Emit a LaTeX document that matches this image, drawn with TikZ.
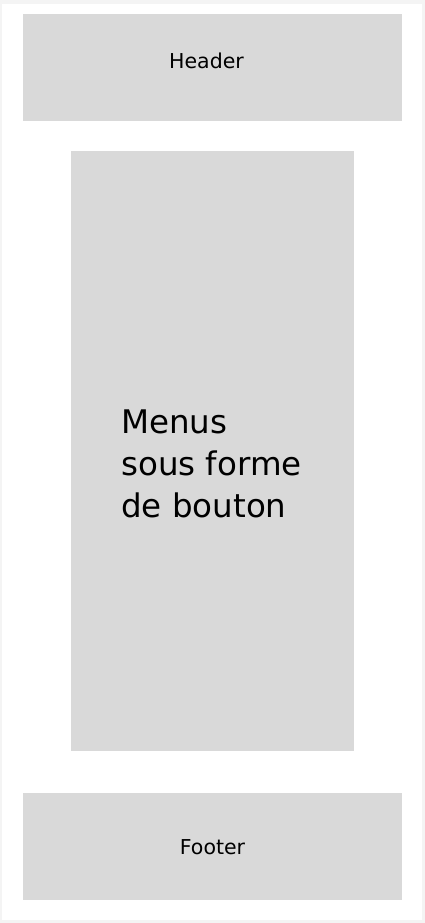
\documentclass[tikz,border=0pt]{standalone}
\usepackage{fontspec}
\setmainfont{DejaVu Sans}
\usetikzlibrary{positioning}
\definecolor{boxgray}{HTML}{D9D9D9}
\definecolor{framegray}{HTML}{F4F4F4}

\begin{document}
\begin{tikzpicture}[x=1pt,y=-1pt,node distance=30pt]
  \tikzstyle{boxW}=[rectangle,fill=boxgray,inner sep=0pt,minimum width=379pt,minimum height=107pt]
  \tikzstyle{boxM}=[rectangle,fill=boxgray,inner sep=0pt,minimum width=283pt,minimum height=600pt]
  \tikzstyle{txtS}=[inner sep=0pt,font=\fontsize{20.5}{24}\selectfont]
  \tikzstyle{txtL}=[inner sep=0pt,align=left,font=\fontsize{32.5}{42}\selectfont]

  % page frame
  \fill[framegray] (0,0) rectangle (425,923);
  \fill[white] (2,4) rectangle (422,920);
  \useasboundingbox (0,0) rectangle (425,923);

  % boxes
  \node[boxW] (header) at (212.5,67.5) {};
  \node[boxM] (menus)  [below=of header] {};
  \node[boxW] (footer) [below=41pt of menus] {};

  % texts
  \node[txtS] (headerT) at ([xshift=-6pt,yshift=7pt]header.center) {Header};
  \node[txtL] (menusT)  at ([xshift=-1pt,yshift=-12pt]menus.center) {Menus\\sous forme\\de bouton};
  \node[txtS] (footerT) at ([yshift=-1pt]footer.center) {Footer};
\end{tikzpicture}
\end{document}
